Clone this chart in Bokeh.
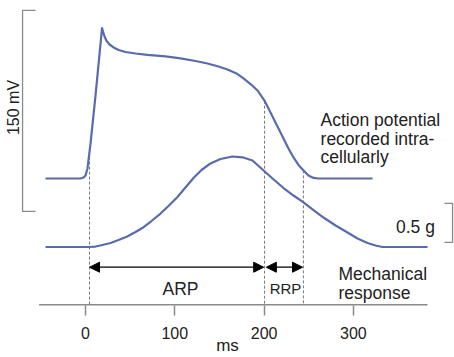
import numpy as np
from bokeh.plotting import figure
from bokeh.models import Range1d, FixedTicker, Arrow, NormalHead
from bokeh.core.properties import value
from bokeh.embed import file_html
from bokeh.resources import INLINE

# ---- data (time in ms) ----
ap_ms = [-44.8, -5.6, -2.2, 0, 2.2, 5.6, 11.2, 18.5, 19.6, 21.3, 23.5, 26.9, 31.4, 37.0,
         44.8, 56.0, 69.4, 89.6, 106.4, 123.2, 136.6, 148.9, 159.0, 169.1, 176.9, 184.8,
         192.6, 200.4, 204.9, 210.5, 216.1, 221.7, 227.3, 232.9, 238.5, 244.1, 249.7,
         255.3, 260.9, 321.4]
ap_mv = [-90, -90, -89.3, -87.8, -82.5, -63.9, -28.1, 22.3, 19.7, 16.0, 12.8, 10.0, 7.8,
         5.9, 4.4, 3.3, 2.2, 1.1, -0.4, -2.3, -4.2, -6.4, -8.7, -11.6, -15.3, -19.5,
         -24.3, -31.8, -37.8, -45.2, -52.7, -60.1, -67.6, -74.3, -79.9, -84.0, -87.8,
         -89.6, -90, -90]

mech_ms = [-44.8, 3.4, 11.2, 19.0, 28.0, 37.0, 46.7, 56.0, 65.0, 73.9, 84.0, 92.9, 102.7,
           111.9, 120.9, 129.9, 140.0, 151.2, 164.6, 175.8, 187.0, 198.2, 209.4, 221.7,
           232.9, 244.1, 255.3, 266.5, 280.0, 293.4, 304.6, 315.8, 324.7, 332.6, 383.0]
mech_g = [0, 0, 0.006, 0.026, 0.051, 0.090, 0.135, 0.192, 0.254, 0.333, 0.429, 0.526,
          0.638, 0.763, 0.885, 0.987, 1.071, 1.128, 1.160, 1.150, 1.109, 0.994, 0.878,
          0.756, 0.660, 0.571, 0.474, 0.378, 0.276, 0.186, 0.109, 0.051, 0.019, 0, 0]

dash_ms = [4.5, 200.5, 244]          # ARP start, ARP end / RRP start, RRP end
arp_ms = [4.5, 199.5]
rrp_ms = [202.5, 243]
arrow_mv = -156.2

ticks = [0, 100, 200, 300]
axis_ms = [-52, 383]

mv_bar = [-114.6, 35.4]   # 150 mV
mv_bar_x = [-70.5, -56]
g_bar = [0.058, 0.558]    # 0.5 g
g_bar_x = [411, 402]

BLUE = "#5a6aae"
GREY = "#8a8a8a"
TXT = "#222222"
FONT = "Liberation Sans"

p = figure(width=454, height=357, x_range=Range1d(-95.2, 413.2),
           y_range=Range1d(-184.78, 42.84), output_backend="svg",
           toolbar_location=None, y_axis_location=None,
           min_border_left=0, min_border_right=0, min_border_top=0,
           min_border_bottom=52)
p.extra_y_ranges = {"mech": Range1d(-0.75, 3.160)}
p.grid.visible = False
p.outline_line_color = None
p.background_fill_color = "white"
p.border_fill_color = "white"

ax = p.xaxis[0]
ax.ticker = FixedTicker(ticks=ticks)
ax.axis_line_color = None
ax.major_tick_line_color = GREY
ax.major_tick_line_width = 1.5
ax.major_tick_out = 10
ax.major_tick_in = 0
ax.minor_tick_line_color = None
ax.major_label_standoff = 11
ax.major_label_text_font = FONT
ax.major_label_text_font_size = "16px"
ax.major_label_text_color = TXT
ax.axis_label = "ms"
ax.axis_label_standoff = -6
ax.axis_label_text_font = FONT
ax.axis_label_text_font_size = "17px"
ax.axis_label_text_font_style = "normal"
ax.axis_label_text_color = TXT

y0 = p.y_range.start
# axis line (partial width)
p.line(axis_ms, [y0, y0], line_color=GREY, line_width=3)

# dashed markers from AP curve down to axis
dash_top = list(np.interp(dash_ms, ap_ms, ap_mv))
p.segment(x0=dash_ms, y0=dash_top, x1=dash_ms, y1=[y0] * 3,
          line_color="#777777", line_width=1, line_dash="3 2")

# curves
p.line(ap_ms, ap_mv, line_color=BLUE, line_width=2.2, line_join="round")
p.line(mech_ms, mech_g, line_color=BLUE, line_width=2.2, line_join="round",
       y_range_name="mech")

# scale bars
p.multi_line(xs=[[mv_bar_x[1], mv_bar_x[0], mv_bar_x[0], mv_bar_x[1]]],
             ys=[[mv_bar[1], mv_bar[1], mv_bar[0], mv_bar[0]]],
             line_color=GREY, line_width=1.3)
p.multi_line(xs=[[g_bar_x[1], g_bar_x[0], g_bar_x[0], g_bar_x[1]]],
             ys=[[g_bar[1], g_bar[1], g_bar[0], g_bar[0]]],
             line_color=GREY, line_width=1.3, y_range_name="mech")

# arrows
for xs in (arp_ms, rrp_ms):
    p.add_layout(Arrow(start=NormalHead(size=10, fill_color="black", line_color="black"),
                       end=NormalHead(size=10, fill_color="black", line_color="black"),
                       x_start=xs[0], y_start=arrow_mv, x_end=xs[1], y_end=arrow_mv,
                       line_color="black", line_width=1.2))

# texts
p.text(x=[-81.2], y=[-37], text=["150 mV"], angle=np.pi / 2, text_align="center",
       text_baseline="middle", text_font=value(FONT), text_font_size="16px",
       text_color=TXT)
p.text(x=[263.2] * 3, y=[-46.7, -60.5, -74.3],
       text=["Action potential", "recorded intra-", "cellularly"],
       text_align="left", text_baseline="alphabetic", text_font=value(FONT),
       text_font_size="17.5px", text_color=TXT)
p.text(x=[283.3, 283.3], y=[-161.1, -175.6], text=["Mechanical", "response"],
       text_align="left", text_baseline="alphabetic", text_font=value(FONT),
       text_font_size="17.5px", text_color=TXT)
p.text(x=[106.4], y=[-172.3], text=["ARP"], text_align="center",
       text_baseline="alphabetic", text_font=value(FONT), text_font_size="17.5px",
       text_color=TXT)
p.text(x=[224], y=[-172.3], text=["RRP"], text_align="center",
       text_baseline="alphabetic", text_font=value(FONT), text_font_size="15px",
       text_color=TXT)
p.text(x=[369.5], y=[0.256], text=["0.5 g"], text_align="center",
       text_baseline="alphabetic", text_font=value(FONT), text_font_size="17.5px",
       text_color=TXT, y_range_name="mech")

open("out.html", "w").write(file_html(p, INLINE))
